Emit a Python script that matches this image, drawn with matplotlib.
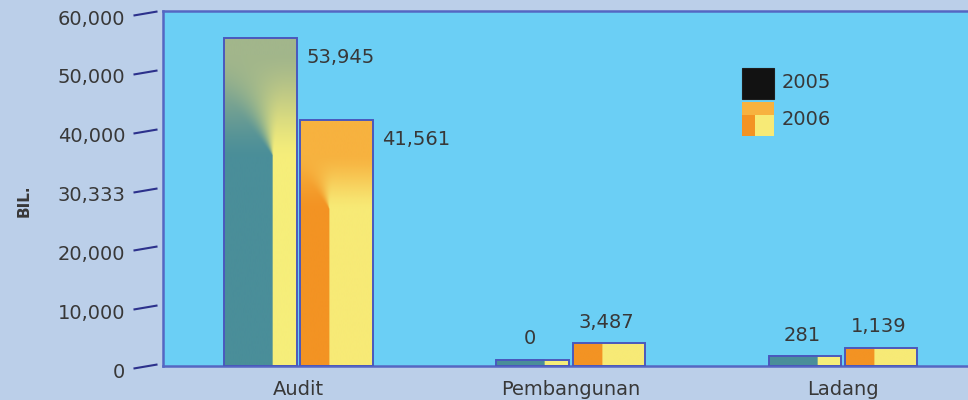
import numpy as np
import matplotlib
matplotlib.use("Agg")
import matplotlib.pyplot as plt
from matplotlib.path import Path
from matplotlib.markers import MarkerStyle
from matplotlib.patches import Rectangle
from matplotlib import transforms as mtrans
from matplotlib.colors import to_rgb

# ---------------- data ----------------
categories = ["Audit", "Pembangunan", "Ladang"]
series_names = ["2005", "2006"]
bar_2005 = [55750, 1100, 1700]      # bar heights as drawn
bar_2006 = [41800, 3850, 3100]
labels_2005 = ["53,945", "0", "281"]  # printed value labels
labels_2006 = ["41,561", "3,487", "1,139"]
ytick_values = [0, 10000, 20000, 30000, 40000, 50000, 60000]
ytick_labels = ["0", "10,000", "20,000", "30,333", "40,000", "50,000", "60,000"]

# ---------------- style ----------------
BG = "#bbcfe9"
PLOT_BG = "#6bcff5"
SPINE = "#5566c2"
EDGE = "#4a58bd"
TEXT = "#383838"
TICK = "#2c318c"

style_2005 = dict(T="#a2b68b", L="#4a8e99", R="#f6ee7a", sx=0.67, D=0.85)
style_2006 = dict(T="#f7b23f", L="#f39323", R="#f7ea76", sx=0.40, D=0.6)

plt.rcParams["font.family"] = ["DejaVu Sans"]


def smoothstep(a):
    return a * a * (3 - 2 * a)


def bar_image(T, L, R, sx, sy, Dfrac, wpx, hpx):
    T, L, R = (np.array(to_rgb(c)) for c in (T, L, R))
    nx = max(int(wpx * 2), 4)
    ny = max(int(hpx * 2), 4)
    px = (np.arange(nx) + 0.5) / nx * wpx
    py = (np.arange(ny) + 0.5) / ny * hpx
    cx, cy = sx * wpx, sy * hpx
    dx = px[None, :] - cx + 0 * py[:, None]
    dy = py[:, None] - cy + 0 * px[None, :]
    above = dy > 0
    phi = np.degrees(np.arctan2(dx, np.where(above, dy, 1e-9)))
    s_fan = smoothstep(np.clip((phi + 40) / 50, 0, 1))
    s = np.where(above, s_fan, (dx > 0).astype(float))[..., None]
    lower = L * (1 - s) + R * s
    D = max(Dfrac * (hpx - cy), 1e-6)
    a = np.clip(dy / D, 0, 1)
    t = np.where(above, 0.5 * a + 0.5 * smoothstep(a), 0.0)[..., None]
    return lower * (1 - t) + T * t


fig = plt.figure(figsize=(9.68, 4.0), dpi=100, facecolor=BG)
ax = fig.add_axes([163 / 968, 34 / 400, 805 / 968, 355 / 400])
ax.set_facecolor(PLOT_BG)
ax.set_xlim(-0.4977, 2.459)
ax.set_ylim(0, 60340)

x = np.arange(len(categories))
offset = 0.14
width = 0.266

for heights, labels, st, sign in [(bar_2005, labels_2005, style_2005, -1),
                                  (bar_2006, labels_2006, style_2006, 1)]:
    bars = ax.bar(x + sign * offset, heights, width, facecolor="none",
                  edgecolor=EDGE, linewidth=1.4, zorder=3)
    for patch, h, lab in zip(bars, heights, labels):
        x0 = patch.get_x()
        x1 = x0 + patch.get_width()
        (p0x, p0y), (p1x, p1y) = ax.transData.transform([(x0, 0), (x1, h)])
        big = h > 10000
        img = bar_image(st["T"], st["L"], st["R"], st["sx"],
                        0.64 if big else 1.0, st["D"], p1x - p0x, p1y - p0y)
        ax.imshow(img, extent=(x0, x1, 0, h), origin="lower", aspect="auto",
                  interpolation="bilinear", zorder=2)
        if big:
            ax.annotate(lab, xy=(x1, h), xytext=(7, -14), textcoords="offset points",
                        ha="left", va="center", fontsize=14, color=TEXT)
        else:
            ax.annotate(lab, xy=((x0 + x1) / 2, h), xytext=(-2, 15),
                        textcoords="offset points", ha="center", va="center",
                        fontsize=14, color=TEXT)

ax.set_xlim(-0.4977, 2.459)
ax.set_ylim(0, 60340)
ax.set_aspect("auto")

for side in ["left", "top", "bottom"]:
    ax.spines[side].set_color(SPINE)
    ax.spines[side].set_linewidth(1.8)
ax.spines["right"].set_visible(False)

ax.set_yticks(ytick_values, ytick_labels)
ax.tick_params(axis="y", length=0, pad=27, labelsize=14, labelcolor=TEXT)
shift = mtrans.ScaledTranslation(0, -4 / 100, fig.dpi_scale_trans)
for lab in ax.get_yticklabels():
    lab.set_transform(lab.get_transform() + shift)

ax.set_xticks(x, categories)
ax.tick_params(axis="x", length=0, pad=10, labelsize=14, labelcolor=TEXT)

# slanted tick dashes
tick_marker = MarkerStyle(Path([(-1, -0.17), (1, 0.17)], [Path.MOVETO, Path.LINETO]))
blend = mtrans.blended_transform_factory(ax.transAxes, ax.transData)
ax.plot([-0.0224] * len(ytick_values), ytick_values, transform=blend,
        marker=tick_marker, ms=17.3, mec=TICK, mew=1.5, ls="none", clip_on=False)

fig.text(24 / 968, 1 - 201 / 400, "BIL.", rotation=90, ha="center", va="center",
         fontsize=11, fontweight="bold", color=TEXT)

# legend (manual)
lx0, lx1 = 0.7193, 0.759
ax.add_patch(Rectangle((lx0, 0.752), lx1 - lx0, 0.087, transform=ax.transAxes,
                       facecolor="#121212", edgecolor="#1e1e1e", lw=0.8, zorder=4))
ky0, ky1 = 0.648, 0.744
kmid = ky0 + (ky1 - ky0) * 0.62
ksplit = lx0 + (lx1 - lx0) * 0.40
ax.add_patch(Rectangle((lx0, kmid), lx1 - lx0, ky1 - kmid, transform=ax.transAxes,
                       facecolor=style_2006["T"], lw=0, zorder=4))
ax.add_patch(Rectangle((lx0, ky0), ksplit - lx0, kmid - ky0, transform=ax.transAxes,
                       facecolor=style_2006["L"], lw=0, zorder=4))
ax.add_patch(Rectangle((ksplit, ky0), lx1 - ksplit, kmid - ky0, transform=ax.transAxes,
                       facecolor=style_2006["R"], lw=0, zorder=4))
ax.text(0.769, 0.80, series_names[0], transform=ax.transAxes, va="center",
        ha="left", fontsize=14, color=TEXT)
ax.text(0.769, 0.693, series_names[1], transform=ax.transAxes, va="center",
        ha="left", fontsize=14, color=TEXT)

fig.savefig("out.png", dpi=100, facecolor=BG)
